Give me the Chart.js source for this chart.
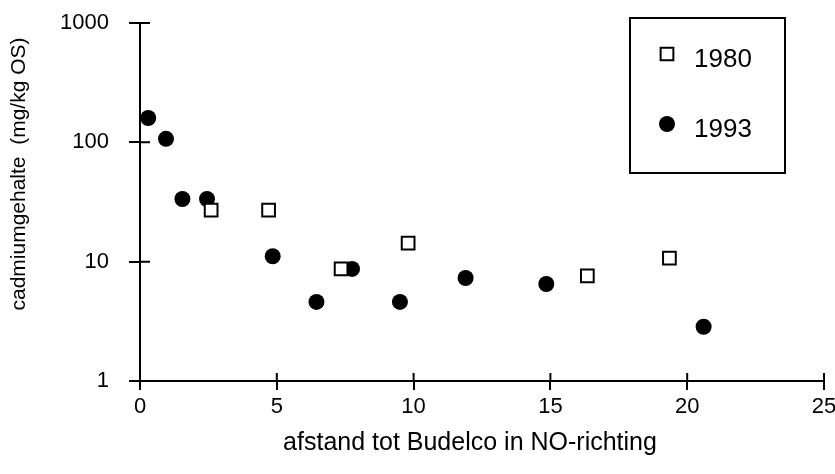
<!DOCTYPE html>
<html>
<head>
<meta charset="utf-8">
<script src="https://cdn.jsdelivr.net/npm/chart.js@4.4.0/dist/chart.umd.min.js"></script>
<style>
  html, body { margin: 0; padding: 0; background: #fff; }
  #wrap { width: 835px; height: 474px; }
</style>
</head>
<body>
<div id="wrap"><canvas id="cdChart"></canvas></div>
<script>
    // Data
    const seriesNames = ['1980', '1993'];
    const dist1980 = [2.6, 4.7, 7.35, 9.8, 16.35, 19.35];
    const cd1980 = [27, 27, 8.7, 14.3, 7.6, 10.7];
    const dist1993 = [0.3, 0.95, 1.55, 2.45, 4.85, 6.45, 7.75, 9.5, 11.9, 14.85, 20.6];
    const cd1993 = [160, 107, 33.5, 33.5, 11.1, 4.6, 8.7, 4.6, 7.3, 6.5, 2.85];
    const xTicks = [0, 5, 10, 15, 20, 25];
    const yTicks = [1, 10, 100, 1000];
    const xTitle = 'afstand tot Budelco in NO-richting';
    const yTitle = 'cadmiumgehalte  (mg/kg OS)';

    const FONT = "'Liberation Sans', Arial, Helvetica, sans-serif";

    function toPoints(xs, ys) {
      return xs.map((x, i) => ({ x: x, y: ys[i] }));
    }

    // Inner tick marks, axis titles and boxed legend
    const extrasPlugin = {
      id: 'extras',
      afterDraw(chart) {
        const ctx = chart.ctx;
        const xs = chart.scales.x;
        const ys = chart.scales.y;
        const area = chart.chartArea;
        ctx.save();
        ctx.strokeStyle = '#000';
        ctx.lineWidth = 2;
        ctx.beginPath();
        yTicks.forEach(v => {
          const py = ys.getPixelForValue(v);
          ctx.moveTo(area.left, py);
          ctx.lineTo(area.left + 10, py);
        });
        xTicks.forEach(v => {
          const px = xs.getPixelForValue(v);
          ctx.moveTo(px, area.bottom);
          ctx.lineTo(px, area.bottom - 8);
        });
        ctx.stroke();

        // axis titles
        ctx.fillStyle = '#000';
        ctx.font = '25px ' + FONT;
        ctx.textAlign = 'center';
        ctx.textBaseline = 'middle';
        ctx.fillText(xTitle, 470, 443);
        ctx.font = '21px ' + FONT;
        ctx.save();
        ctx.translate(19, 174);
        ctx.rotate(-Math.PI / 2);
        ctx.fillText(yTitle, 0, 0);
        ctx.restore();

        // legend box
        ctx.lineWidth = 2;
        ctx.strokeRect(630, 18, 155, 155);
        ctx.font = '26px ' + FONT;
        ctx.textAlign = 'left';
        const rows = [54, 124];
        chart.data.datasets.forEach((ds, i) => {
          ctx.fillStyle = ds.backgroundColor;
          ctx.strokeStyle = ds.borderColor;
          ctx.lineWidth = ds.borderWidth;
          Chart.helpers.drawPoint(ctx, {
            pointStyle: ds.pointStyle,
            radius: ds.pointRadius,
            rotation: 0,
            borderWidth: ds.borderWidth
          }, 667, rows[i]);
          ctx.fillStyle = '#000';
          ctx.fillText(seriesNames[i], 694, rows[i] + 6);
        });
        ctx.restore();
      }
    };

    new Chart(document.getElementById('cdChart'), {
      type: 'scatter',
      data: {
        datasets: [
          {
            label: seriesNames[0],
            data: toPoints(dist1980, cd1980),
            pointStyle: 'rect',
            pointRadius: 9,
            pointHoverRadius: 9,
            backgroundColor: '#fff',
            borderColor: '#000',
            borderWidth: 2
          },
          {
            label: seriesNames[1],
            data: toPoints(dist1993, cd1993),
            pointStyle: 'circle',
            pointRadius: 8,
            pointHoverRadius: 8,
            backgroundColor: '#000',
            borderColor: '#000',
            borderWidth: 0
          }
        ]
      },
      options: {
        responsive: true,
        maintainAspectRatio: false,
        animation: false,
        layout: {
          padding: { left: 0, top: 23, right: 10, bottom: 0 }
        },
        plugins: {
          legend: { display: false },
          tooltip: { enabled: false }
        },
        scales: {
          x: {
            type: 'linear',
            min: 0,
            max: 25,
            afterBuildTicks: scale => {
              scale.ticks = xTicks.map(v => ({ value: v }));
            },
            afterFit: scale => {
              scale.height = 93;
              scale.paddingLeft = 0;
              scale.paddingRight = 0;
            },
            ticks: {
              color: '#000',
              padding: 4,
              maxRotation: 0,
              font: { family: FONT, size: 22 }
            },
            grid: {
              drawOnChartArea: false,
              drawTicks: true,
              tickLength: 9,
              color: '#000',
              lineWidth: 2
            },
            border: { display: true, color: '#000', width: 2 }
          },
          y: {
            type: 'logarithmic',
            min: 1,
            max: 1000,
            afterBuildTicks: scale => {
              scale.ticks = yTicks.map(v => ({ value: v }));
            },
            afterFit: scale => {
              scale.width = 140;
              scale.paddingTop = 0;
              scale.paddingBottom = 0;
            },
            ticks: {
              color: '#000',
              padding: 20,
              callback: v => String(v),
              font: { family: FONT, size: 22 }
            },
            grid: {
              drawOnChartArea: false,
              drawTicks: true,
              tickLength: 11,
              color: '#000',
              lineWidth: 2
            },
            border: { display: true, color: '#000', width: 2 }
          }
        }
      },
      plugins: [extrasPlugin]
    });
</script>
</body>
</html>
